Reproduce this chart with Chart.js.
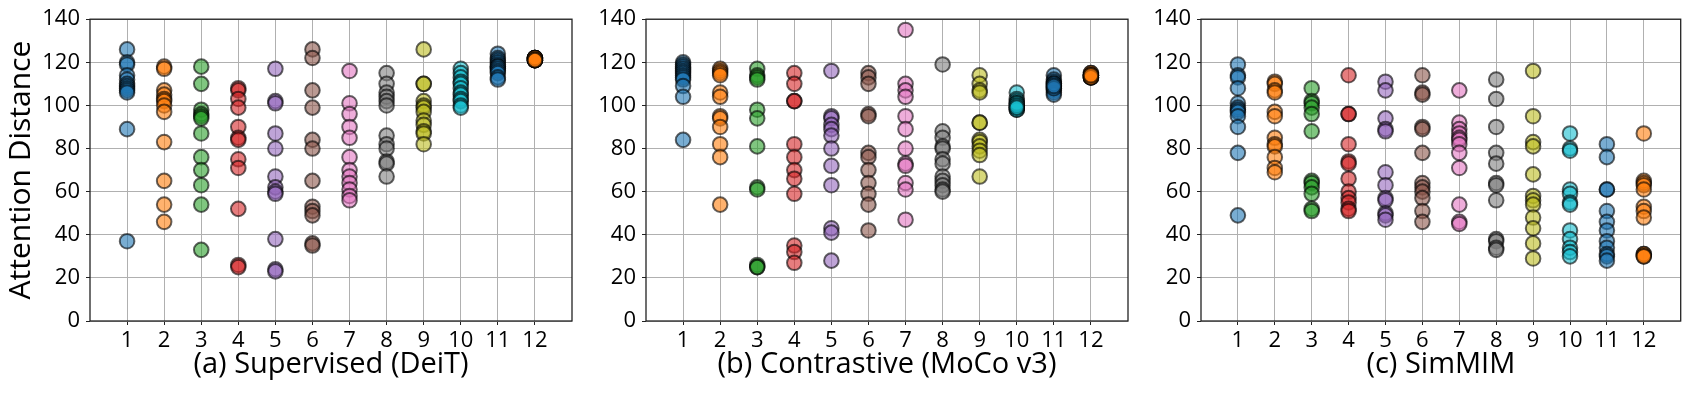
<!DOCTYPE html>
<html lang="en">
<head>
  <meta charset="UTF-8" />
  <title>Attention Distance per Layer</title>
  <script src="https://cdn.jsdelivr.net/npm/chart.js"></script>
  <style>
    body { margin: 0; background: #fff; }
    #wrap { position: relative; width: 1690px; height: 394px; overflow: hidden; }
    canvas { position: absolute; top: 0; }
  </style>
</head>
<body>
  <div id="wrap">
    <canvas id="chartA"></canvas>
    <canvas id="chartB"></canvas>
    <canvas id="chartC"></canvas>
  </div>

  <script>
    // layers 1..12, one list of head distances per layer
    const layers = [1, 2, 3, 4, 5, 6, 7, 8, 9, 10, 11, 12];
    const yTicks = [0, 20, 40, 60, 80, 100, 120, 140];

    const deit = [
      [126, 120, 119, 114, 112, 110, 109, 108, 107, 106, 89, 37],
      [118, 117, 107, 105, 103, 102, 100, 97, 83, 65, 54, 46],
      [118, 110, 98, 96, 95, 94, 87, 76, 70, 63, 54, 33],
      [108, 107, 103, 99, 90, 85, 84, 75, 71, 52, 26, 25],
      [117, 102, 101, 87, 80, 67, 62, 60, 59, 38, 24, 23],
      [126, 122, 107, 99, 84, 80, 65, 53, 51, 49, 36, 35],
      [116, 101, 96, 90, 85, 76, 70, 67, 64, 61, 58, 56],
      [115, 110, 106, 104, 102, 100, 86, 82, 80, 74, 73, 67],
      [126, 110, 110, 102, 100, 99, 97, 93, 91, 88, 87, 82],
      [117, 115, 113, 111, 110, 108, 106, 105, 103, 102, 100, 99],
      [124, 122, 121, 120, 119, 118, 118, 117, 116, 115, 113, 112],
      [122, 122, 122, 121, 121, 121, 122, 121, 122, 122, 121, 121]
    ];

    const moco = [
      [120, 119, 118, 117, 116, 115, 114, 113, 112, 109, 104, 84],
      [117, 116, 115, 114, 106, 104, 95, 94, 90, 82, 76, 54],
      [117, 114, 113, 112, 98, 94, 81, 62, 61, 26, 25, 25],
      [115, 110, 102, 102, 82, 76, 70, 66, 59, 35, 32, 27],
      [116, 95, 94, 91, 89, 86, 80, 72, 63, 43, 41, 28],
      [115, 113, 110, 96, 95, 78, 76, 70, 64, 59, 54, 42],
      [135, 110, 107, 104, 95, 89, 80, 73, 72, 64, 61, 47],
      [119, 88, 85, 81, 80, 75, 73, 67, 65, 63, 61, 60],
      [114, 110, 107, 106, 92, 92, 84, 83, 81, 79, 77, 67],
      [106, 103, 102, 101, 100, 99, 99, 98, 98, 101, 100, 99],
      [114, 112, 111, 110, 109, 108, 107, 106, 105, 110, 108, 109],
      [115, 114, 114, 113, 114, 113, 114, 115, 113, 114, 113, 114]
    ];

    const simmim = [
      [119, 114, 113, 108, 101, 99, 98, 97, 95, 90, 78, 49],
      [111, 110, 107, 106, 97, 95, 85, 82, 81, 76, 71, 69],
      [108, 102, 101, 99, 96, 88, 65, 64, 62, 59, 52, 51],
      [114, 96, 96, 82, 74, 73, 66, 60, 57, 55, 52, 51],
      [111, 107, 94, 89, 88, 69, 63, 57, 56, 50, 49, 47],
      [114, 106, 105, 90, 89, 78, 64, 62, 60, 57, 51, 46],
      [107, 92, 89, 87, 85, 84, 82, 78, 71, 54, 46, 45],
      [112, 103, 90, 78, 73, 64, 63, 56, 38, 37, 34, 33],
      [116, 95, 83, 81, 68, 58, 56, 54, 48, 43, 36, 29],
      [87, 80, 79, 61, 59, 55, 54, 42, 38, 34, 32, 30],
      [82, 76, 61, 61, 51, 46, 42, 37, 34, 31, 30, 28],
      [87, 65, 64, 63, 61, 53, 51, 48, 31, 31, 30, 30]
    ];

    // tab10 cycle
    const palette = [
      "31,119,180", "255,127,14", "44,160,44", "214,39,40", "148,103,189",
      "140,86,75", "227,119,194", "127,127,127", "188,189,34", "23,190,207"
    ];

    const FONT = "'Open Sans', 'DejaVu Sans', sans-serif";

    const frame = {
      id: "frame",
      afterDatasetsDraw(chart) {
        const a = chart.chartArea;
        const c = chart.ctx;
        c.save();
        c.strokeStyle = "#222";
        c.lineWidth = 1.3;
        c.strokeRect(a.left, a.top, a.right - a.left, a.bottom - a.top);
        c.restore();
      }
    };

    function makePanel(id, left, width, axisW, title, values, yTitle) {
      const canvas = document.getElementById(id);
      canvas.width = width;
      canvas.height = 394;
      canvas.style.left = left + "px";

      const datasets = values.map((vals, i) => ({
        label: "Layer " + layers[i],
        data: vals.map(v => ({ x: layers[i], y: v })),
        backgroundColor: "rgba(" + palette[i % 10] + ",0.6)",
        borderColor: "rgba(0,0,0,0.6)",
        borderWidth: 2,
        pointRadius: 7.3,
        pointHoverRadius: 7.3
      }));

      new Chart(canvas.getContext("2d"), {
        type: "scatter",
        data: { datasets },
        options: {
          responsive: false,
          devicePixelRatio: 1,
          animation: false,
          layout: { padding: { top: 16, right: width - axisW - 482, bottom: 0, left: 0 } },
          plugins: { legend: { display: false }, tooltip: { enabled: false } },
          scales: {
            x: {
              type: "linear",
              min: 0,
              max: 13,
              afterBuildTicks: axis => { axis.ticks = layers.map(v => ({ value: v })); },
              afterFit: axis => { axis.height = 73; },
              grid: { color: "#b0b0b0", lineWidth: 1, tickColor: "#222", tickLength: 4 },
              border: { display: false },
              ticks: { color: "#000", padding: 3, maxRotation: 0, autoSkip: false,
                       font: { family: FONT, size: 22 } },
              title: { display: true, text: title, color: "#000",
                       padding: { top: 0, bottom: 12 },
                       font: { family: FONT, size: 29, lineHeight: 1.2 } }
            },
            y: {
              min: 0,
              max: 140,
              afterBuildTicks: axis => { axis.ticks = yTicks.map(v => ({ value: v })); },
              afterFit: axis => { axis.width = axisW; },
              grid: { color: "#b0b0b0", lineWidth: 1, tickColor: "#222", tickLength: 4 },
              border: { display: false },
              ticks: { color: "#000", padding: 6, font: { family: FONT, size: 22 } },
              title: { display: !!yTitle, text: yTitle || "", color: "#000",
                       padding: { top: 3, bottom: 0 },
                       font: { family: FONT, size: 30, lineHeight: 1.2 } }
            }
          }
        },
        plugins: [frame]
      });
    }

    makePanel("chartA", 0, 582, 90, "(a) Supervised (DeiT)", deit, "Attention Distance");
    makePanel("chartB", 590, 548, 56, "(b) Contrastive (MoCo v3)", moco);
    makePanel("chartC", 1145, 545, 56, "(c) SimMIM", simmim);
  </script>
</body>
</html>
